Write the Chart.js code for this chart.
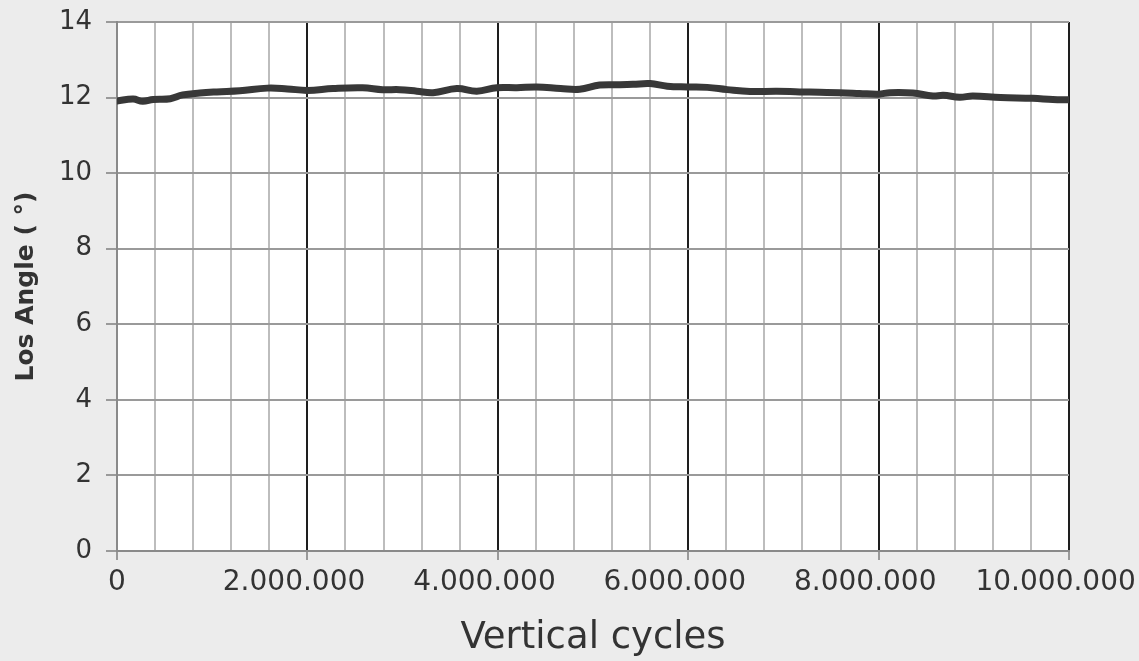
<!DOCTYPE html>
<html>
<head>
<meta charset="utf-8">
<script src="https://cdn.jsdelivr.net/npm/chart.js@4"></script>
<style>
  html, body { margin: 0; padding: 0; background: #ececec; }
  #wrap { width: 1139px; height: 661px; }
</style>
</head>
<body>
<div id="wrap"><canvas id="chart"></canvas></div>
<script>
// vertical cycles (x) and measured los angle in degrees (y)
const cycles = [0, 170000, 270000, 380000, 560000, 690000, 870000, 1050000, 1290000, 1580000,
    1790000, 2000000, 2270000, 2580000, 2790000, 2970000, 3150000, 3320000, 3570000, 3780000,
    3990000, 4200000, 4410000, 4660000, 4860000, 5070000, 5280000, 5420000, 5600000, 5780000,
    5990000, 6200000, 6410000, 6650000, 6930000, 7170000, 7380000, 7590000, 7800000, 8000000,
    8120000, 8360000, 8570000, 8680000, 8850000, 8990000, 9280000, 9620000, 9830000, 10000000];
const angles = [11.91, 11.96, 11.90, 11.95, 11.97, 12.07, 12.12, 12.15, 12.18, 12.25,
    12.23, 12.19, 12.24, 12.26, 12.21, 12.21, 12.17, 12.13, 12.24, 12.17,
    12.26, 12.26, 12.28, 12.24, 12.22, 12.33, 12.34, 12.35, 12.37, 12.30,
    12.28, 12.27, 12.21, 12.16, 12.17, 12.15, 12.14, 12.13, 12.11, 12.09,
    12.13, 12.12, 12.04, 12.06, 12.01, 12.04, 12.00, 11.98, 11.95, 11.94];

const xMax = 10000000;
const xMinorStep = 400000;
const xMajorStep = 2000000;
const yTicks = [0, 2, 4, 6, 8, 10, 12, 14];

const FONT = '"DejaVu Sans", sans-serif';
const TEXT = '#333333';

const plotBg = {
    id: 'plotBg',
    beforeDraw(chart) {
        const { ctx, chartArea: a } = chart;
        ctx.save();
        ctx.fillStyle = '#ececec';
        ctx.fillRect(0, 0, chart.width, chart.height);
        ctx.fillStyle = '#ffffff';
        ctx.fillRect(a.left, a.top, a.right - a.left, a.bottom - a.top);
        ctx.restore();
    }
};

const isMajor = v => v % xMajorStep === 0;
const fmt = v => String(v).replace(/\B(?=(\d{3})+(?!\d))/g, '.');

new Chart(document.getElementById('chart').getContext('2d'), {
    type: 'line',
    data: {
        datasets: [{
            data: cycles.map((c, i) => ({ x: c, y: angles[i] })),
            borderColor: '#383838',
            borderWidth: 7,
            borderCapStyle: 'round',
            borderJoinStyle: 'round',
            pointRadius: 0,
            tension: 0.4,
            fill: false
        }]
    },
    options: {
        responsive: true,
        maintainAspectRatio: false,
        animation: false,
        layout: { padding: { top: 22, right: 70, left: 0, bottom: 0 } },
        plugins: { legend: { display: false }, tooltip: { enabled: false } },
        scales: {
            x: {
                type: 'linear',
                min: 0,
                max: xMax,
                afterFit: s => { s.height = 110; s.paddingLeft = 0; s.paddingRight = 0; },
                ticks: {
                    stepSize: xMinorStep,
                    autoSkip: false,
                    maxRotation: 0,
                    padding: 6,
                    color: TEXT,
                    font: { family: FONT, size: 28 },
                    callback: v => isMajor(v) ? (v === 0 ? '0' : fmt(v) + '   ') : ''
                },
                grid: {
                    lineWidth: 2,
                    tickLength: 9,
                    color: c => c.tick.value === 0 ? '#8a8a8a' : (isMajor(c.tick.value) ? '#1e1e1e' : '#bdbdbd'),
                    tickColor: c => isMajor(c.tick.value) ? '#999999' : 'rgba(0,0,0,0)'
                },
                border: { display: true, color: '#8a8a8a', width: 2 },
                title: {
                    display: true,
                    text: 'Vertical cycles',
                    color: TEXT,
                    font: { family: FONT, size: 37 },
                    padding: { top: 0, bottom: 0 }
                }
            },
            y: {
                min: 0,
                max: 14,
                afterFit: s => { s.width = 117; s.paddingTop = 0; s.paddingBottom = 0; },
                afterBuildTicks: s => { s.ticks = yTicks.map(v => ({ value: v })); },
                ticks: {
                    padding: 14,
                    color: TEXT,
                    font: { family: FONT, size: 26 }
                },
                grid: {
                    lineWidth: 2,
                    tickLength: 11,
                    color: '#9a9a9a',
                    tickColor: '#9a9a9a'
                },
                border: { display: true, color: '#8a8a8a', width: 2 },
                title: {
                    display: true,
                    text: 'Los Angle ( °)',
                    color: TEXT,
                    font: { family: FONT, size: 25, weight: 'bold' },
                    padding: { top: 11, bottom: 0 }
                }
            }
        }
    },
    plugins: [plotBg]
});
</script>
</body>
</html>
